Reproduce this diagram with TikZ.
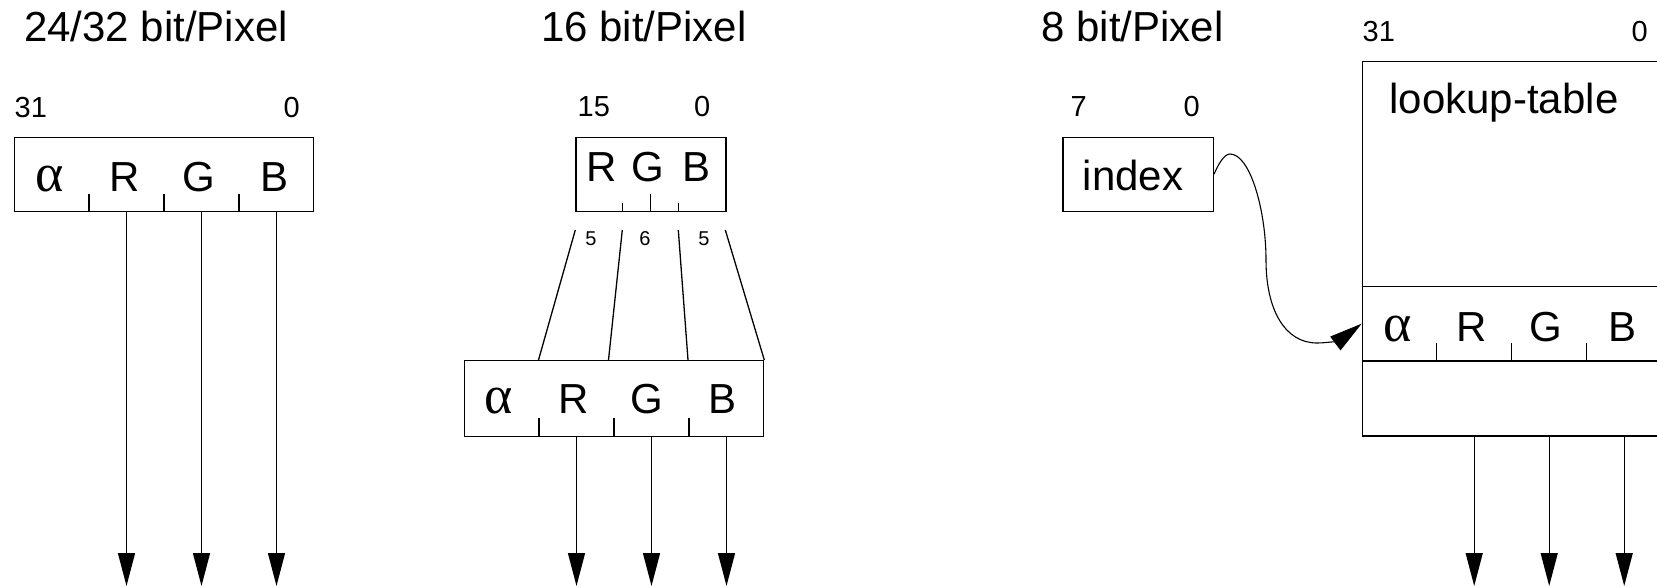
\documentclass[tikz,border=0pt]{standalone}
\usepackage{fontspec}
\setmainfont{Liberation Sans}
\newfontfamily\grk{Liberation Serif}
\usetikzlibrary{arrows.meta}
\begin{document}
\begin{tikzpicture}[x=1pt,y=-1pt, line width=1.3pt,
  big/.style={font=\fontsize{42}{48}\selectfont, inner sep=0pt, anchor=base},
  alf/.style={font=\grk\fontsize{54}{60}\selectfont, inner sep=0pt, anchor=base},
  bitno/.style={font=\fontsize{29}{34}\selectfont, inner sep=0pt},
  tiny/.style={font=\fontsize{20}{24}\selectfont, inner sep=0pt, anchor=base},
  box/.style={draw, rectangle, inner sep=0pt, anchor=north west, line width=1.3pt},
  arr/.style={-{Triangle[length=33pt,width=17pt]}},
]
\useasboundingbox (0,0) rectangle (1657,587);
\clip (0,0) rectangle (1657,587);

% ---------- titles ----------
\node[big] (t1) at (156,41.7) {24/32 bit/Pixel};
\node[big] (t2) at (644,41.7) {16 bit/Pixel};
\node[big] (t3) at (1132.5,41.7) {8 bit/Pixel};

% ---------- 24/32 bit ----------
\node[box, minimum width=299pt, minimum height=74pt] (b1) at (14,136.5) {};
\node[bitno, anchor=base west] (b1hi) at (14,117.3) {31};
\node[bitno, anchor=base east] (b1lo) at (300.5,117.3) {0};
\node[alf] (b1a) at (50,191.7) {α};
\node[big] (b1r) at (125,191.7) {R};
\node[big] (b1g) at (199,191.7) {G};
\node[big] (b1b) at (275,191.7) {B};
\foreach \k in {1,2,3}{
  \draw ([xshift=\k*75pt]b1.south west) -- ++(0,-18);
  \coordinate (o1\k) at ({14+\k*75+37.5},586);
  \draw[arr] (b1.south west -| o1\k) -- (o1\k);
}

% ---------- 16 bit ----------
\node[box, minimum width=150pt, minimum height=74pt] (b2) at (575.3,136.5) {};
\node[bitno, anchor=base west] (b2hi) at (577,116) {15};
\node[bitno, anchor=base east] (b2lo) at (711,116) {0};
\node[big] (b2r) at (602,181.7) {R};
\node[big] (b2g) at (648,181.7) {G};
\node[big] (b2b) at (696,181.7) {B};
\draw ([xshift=47pt]b2.south west) -- ++(0,-8.7);
\draw ([xshift=75pt]b2.south west) -- ++(0,-18);
\draw ([xshift=103pt]b2.south west) -- ++(0,-8.7);

\node[box, minimum width=299pt, minimum height=75.5pt] (b3) at (464,360) {};
\node[alf] (b3a) at (498.5,413) {α};
\node[big] (b3r) at (573.5,413) {R};
\node[big] (b3g) at (647,413) {G};
\node[big] (b3b) at (722,413) {B};
\foreach \k in {1,2,3}{
  \draw ([xshift=\k*75pt]b3.south west) -- ++(0,-18.5);
  \coordinate (o3\k) at ({464+\k*75+37.5},586);
  \draw[arr] (b3.south west -| o3\k) -- (o3\k);
}
\coordinate (s1) at (575.3,230);
\coordinate (s2) at (622.3,230);
\coordinate (s3) at (678.3,230);
\coordinate (s4) at (725.3,230);
\draw (s1) -- ([xshift=74.5pt]b3.north west);
\draw (s2) -- ([xshift=144.5pt]b3.north west);
\draw (s3) -- ([xshift=224pt]b3.north west);
\draw (s4) -- (b3.north east);
\node[tiny] (n5a) at (591,245) {5};
\node[tiny] (n6) at (645,245) {6};
\node[tiny] (n5b) at (704,245) {5};

% ---------- 8 bit ----------
\node[box, minimum width=150.4pt, minimum height=74pt] (idx) at (1062.3,136.5) {};
\node[bitno, anchor=base west] (ihi) at (1070,116) {7};
\node[bitno, anchor=base east] (ilo) at (1200.5,116) {0};
\node[big] (itxt) at (1133,190) {index};

\node[box, minimum width=300pt, minimum height=224.7pt] (lut) at (1361.7,61) {};
\node[box, minimum width=300pt, minimum height=74.6pt] (row) at (1361.7,285.7) {};
\node[box, minimum width=300pt, minimum height=75pt] (lutb) at (1361.7,360.3) {};
\node[bitno, anchor=base west] (lhi) at (1362,41.7) {31};
\node[bitno, anchor=base east] (llo) at (1648.5,41.7) {0};
\node[big] (ltxt) at (1504,113.5) {lookup-table};
\node[alf] (la) at (1397.5,341) {α};
\node[big] (lr) at (1472,341) {R};
\node[big] (lg) at (1546,341) {G};
\node[big] (lb) at (1622,341) {B};
\foreach \k in {1,2,3}{
  \draw ([xshift=\k*75pt]row.south west) -- ++(0,-18.3);
  \coordinate (o4\k) at ({1361.7+\k*75+37.5},586);
  \draw[arr] (lutb.south west -| o4\k) -- (o4\k);
}

\draw[arr, line width=1.1pt] (idx.east)
  .. controls (1218,165) and (1224,154) .. (1230,154)
  .. controls (1250,154) and (1266,210) .. (1266,260)
  .. controls (1266,310) and (1285,343) .. (1317,343)
  .. controls (1328,343) and (1340,340) .. (row.west);
\end{tikzpicture}
\end{document}
